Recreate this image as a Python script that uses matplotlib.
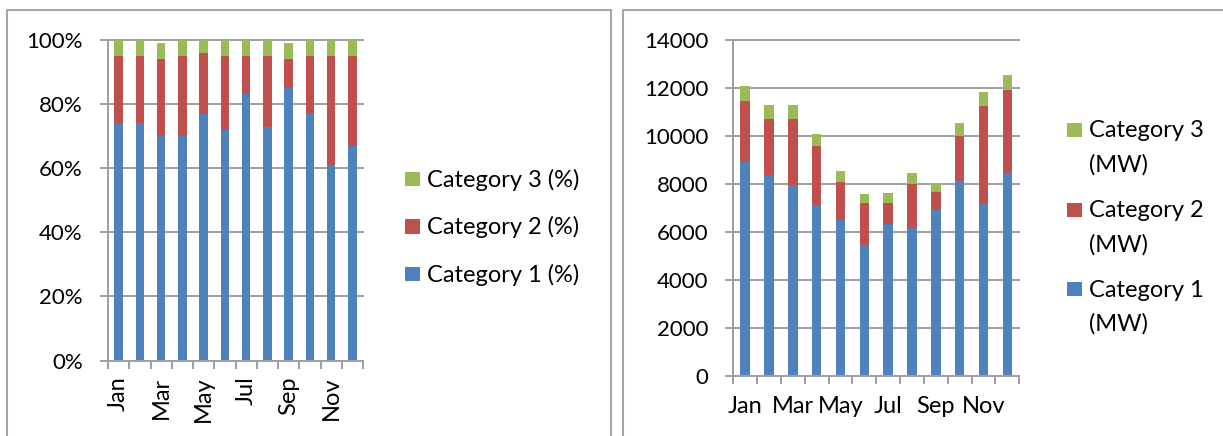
import matplotlib
matplotlib.use("Agg")
import matplotlib.pyplot as plt
import numpy as np
from matplotlib.patches import Rectangle
from matplotlib.lines import Line2D

# ---------------- data ----------------
months = ["Jan", "Feb", "Mar", "Apr", "May", "Jun",
          "Jul", "Aug", "Sep", "Oct", "Nov", "Dec"]

cat1_pct = [74, 74, 70, 70, 77, 72, 83, 73, 85, 77, 61, 67]
cat2_pct = [21, 21, 24, 25, 19, 23, 12, 22, 9, 18, 34, 28]
cat3_pct = [5, 5, 5, 5, 4, 5, 5, 5, 5, 5, 5, 5]

cat1_mw = [8900, 8350, 7950, 7050, 6500, 5450, 6300, 6150, 6880, 8100, 7200, 8420]
cat2_mw = [2550, 2350, 2750, 2530, 1580, 1730, 900, 1850, 750, 1900, 4050, 3480]
cat3_mw = [600, 570, 570, 500, 430, 390, 400, 430, 400, 520, 580, 640]

pct_ticks = [0, 20, 40, 60, 80, 100]
pct_tick_labels = ["0%", "20%", "40%", "60%", "80%", "100%"]
mw_ticks = [0, 2000, 4000, 6000, 8000, 10000, 12000, 14000]

labels_pct = ["Category 1 (%)", "Category 2 (%)", "Category 3 (%)"]
labels_mw = [["Category 1", "(MW)"], ["Category 2", "(MW)"], ["Category 3", "(MW)"]]

colors = ["#4F81BD", "#C0504D", "#9BBB59"]
GRAY = "#a0a0a0"
FRAME = "#a6a6a6"

# ---------------- figure ----------------
plt.rcParams["font.family"] = ["Lato", "DejaVu Sans"]
FS = 16      # numbers
FS_T = 17    # words
W, H = 1223, 436
fig = plt.figure(figsize=(W / 100, H / 100), dpi=100)


def fx(x):
    return x / W


def fy(y):
    return 1 - y / H


ax1 = fig.add_axes([fx(108), fy(360.5), (363 - 108) / W, (360.5 - 40) / H])
ax2 = fig.add_axes([fx(733.3), fy(375.5), (1019.3 - 733.3) / W, (375.5 - 39.7) / H])

x = np.arange(len(months))
bw = 0.4


def stack(ax, series):
    bottom = np.zeros(len(months))
    for vals, c in zip(series, colors):
        v = np.array(vals, dtype=float)
        ax.bar(x, v, bw, bottom=bottom, color=c, edgecolor="none", zorder=2)
        bottom += v


stack(ax1, [cat1_pct, cat2_pct, cat3_pct])
stack(ax2, [cat1_mw, cat2_mw, cat3_mw])


def style(ax, yticks, ylabels, ymax, rot, xpad):
    ax.set_xlim(-0.5, len(months) - 0.5)
    ax.set_ylim(0, ymax)
    for s in ["top", "right"]:
        ax.spines[s].set_visible(False)
    for s in ["left", "bottom"]:
        ax.spines[s].set_color(GRAY)
        ax.spines[s].set_linewidth(1.44)
    ax.set_yticks(yticks)
    ax.set_yticklabels(ylabels, fontsize=FS)
    ax.tick_params(axis="y", length=5.8, width=1.44, color=GRAY, pad=12.3)
    ax.yaxis.grid(True, color=GRAY, linewidth=1.44, zorder=0)
    ax.set_axisbelow(True)
    for gl in ax.get_ygridlines():
        gl.set_clip_on(False)
    # category labels (every other month) at centres, tick marks at boundaries
    ax.set_xticks(x)
    ax.set_xticklabels([m if i % 2 == 0 else "" for i, m in enumerate(months)],
                       fontsize=FS_T, rotation=rot)
    ax.tick_params(axis="x", which="major", length=0, pad=xpad)
    ax.set_xticks(np.arange(-0.5, len(months)), minor=True)
    ax.tick_params(axis="x", which="minor", length=5.8, width=1.44, color=GRAY)


style(ax1, pct_ticks, pct_tick_labels, 100, 90, 11.5)
style(ax2, mw_ticks, [str(t) for t in mw_ticks], 14000, 0, 15.0)

# ---------------- legends (manual, Excel-like) ----------------
def square(x0, y0, w, h, c):
    fig.add_artist(Rectangle((fx(x0), fy(y0 + h)), w / W, h / H,
                             transform=fig.transFigure, color=c, lw=0))


left_rows = [281.7, 234.3, 186.7]  # baselines for cat1, cat2, cat3
for lab, c, base in zip(labels_pct, colors, left_rows):
    square(405, base - 15, 15, 14.5, c)
    fig.text(fx(427), fy(base), lab, fontsize=FS_T, va="baseline", ha="left")

right_rows = [296.7, 217.3, 137.3]
for lab, c, base in zip(labels_mw, colors, right_rows):
    square(1066.7, base - 14.5, 15, 14, c)
    fig.text(fx(1089), fy(base), lab[0], fontsize=FS_T, va="baseline", ha="left")
    fig.text(fx(1089), fy(base + 34.3), lab[1], fontsize=FS_T, va="baseline", ha="left")

# ---------------- panel frames ----------------
def line(xs, ys):
    fig.add_artist(Line2D([fx(v) for v in xs], [fy(v) for v in ys],
                          transform=fig.transFigure, color=FRAME, lw=1.5))


line([6.7, 6.7, 610.7, 610.7], [437, 10, 10, 437])
line([1224, 623.3, 623.3], [10, 10, 437])

fig.savefig("out.png", dpi=100)
